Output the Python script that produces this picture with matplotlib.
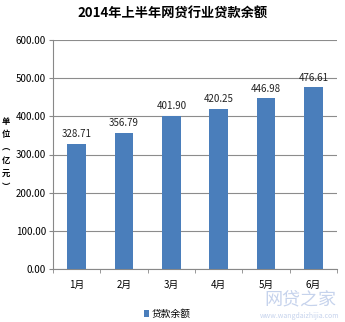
import matplotlib
matplotlib.use("Agg")
import matplotlib.pyplot as plt
import numpy as np

plt.rcParams['font.family'] = ['Noto Sans CJK SC', 'DejaVu Sans']

months = ['1月', '2月', '3月', '4月', '5月', '6月']
balance = [328.71, 356.79, 401.90, 420.25, 446.98, 476.61]
yticks = [0, 100, 200, 300, 400, 500, 600]
ylabel_chars = ['单', '位', '︵', '亿', '元', '︶']

fig = plt.figure(figsize=(3.45, 3.22), dpi=100)
ax = fig.add_axes([53/345, 1-269/322, 284/345, 229/322])

x = np.arange(len(months))
bars = ax.bar(x, balance, width=0.39, color='#4a7ebb', label='贷款余额', zorder=3)
for xi, v in zip(x, balance):
    ax.text(xi, v + 12, f'{v:.2f}', ha='center', va='bottom', fontsize=7, color='#222222')

ax.set_xlim(-0.5, len(months) - 0.5)
ax.set_ylim(0, 600)
ax.set_yticks(yticks)
ax.set_yticklabels([f'{t:.2f}' for t in yticks], fontsize=7)
ax.set_xticks(x)
ax.set_xticklabels(months, fontsize=7)
ax.set_xticks(np.arange(-0.5, len(months)), minor=True)
ax.tick_params(axis='x', which='major', length=0, pad=8)
ax.tick_params(axis='x', which='minor', length=3, color='#888888')
ax.tick_params(axis='y', length=3, color='#888888', pad=2)
ax.grid(axis='y', color='#8c8c8c', linewidth=0.8, zorder=0)
for s in ['top', 'right']:
    ax.spines[s].set_visible(False)
ax.spines['left'].set_color('#888888')
ax.spines['bottom'].set_color('#888888')

fig.text(0.5, 1-14/322, '2014年上半年网贷行业贷款余额', ha='center', va='center',
         fontsize=9.5, fontweight='bold')
for i, ch in enumerate(ylabel_chars):
    fig.text(6/345, 1-(122 + i*13)/322, ch, ha='center', va='center',
             fontsize=6, fontweight='bold')

fig.legend(handles=[bars], labels=['贷款余额'], loc='center', bbox_to_anchor=(167/345, 1-314/322),
           frameon=False, fontsize=7, handlelength=0.6, handleheight=0.6, handletextpad=0.2)

fig.text(300/345, 1-300/322, '网贷之家', ha='center', va='center', fontsize=13,
         color='#b8c8e8', alpha=0.8)
fig.text(300/345, 1-316/322, 'www.wangdaizhijia.com', ha='center', va='center', fontsize=5,
         color='#b8c8e8', alpha=0.8)

fig.savefig('out.png', dpi=100)
